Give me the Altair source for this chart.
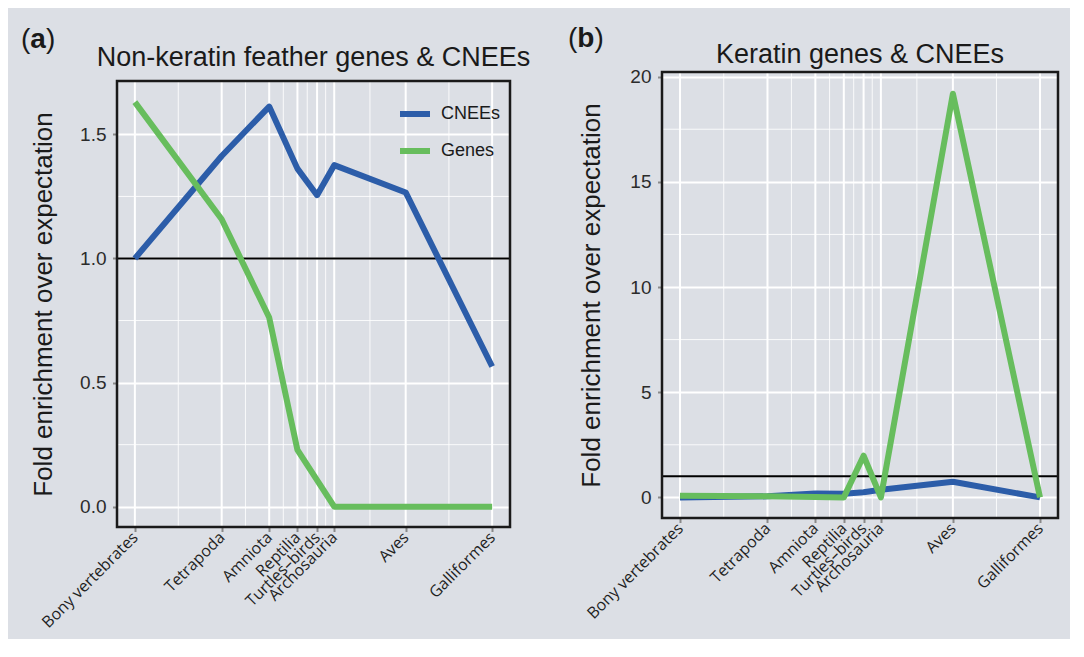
import json
import altair as alt
import pandas as pd

# ---------------- data ----------------
clades = ["Bony vertebrates", "Tetrapoda", "Amniota", "Reptilia",
          "Turtles–birds", "Archosauria", "Aves", "Galliformes"]
clade_pos = [0.0, 24.3, 37.6, 45.5, 51.0, 55.8, 75.8, 100.0]

feather_cnees = [1.0, 1.413, 1.612, 1.362, 1.255, 1.376, 1.266, 0.565]
feather_genes = [1.630, 1.158, 0.762, 0.229, None, 0.0, 0.0, 0.0]

keratin_cnees = [0.0, 0.05, 0.19, 0.17, 0.24, 0.36, 0.74, 0.0]
keratin_genes = [0.08, 0.05, 0.02, 0.0, 1.98, 0.0, 19.19, 0.0]

series_names = ["CNEEs", "Genes"]
series_colors = ["#2c5da9", "#67bd5d"]

a_y_ticks = [0.0, 0.5, 1.0, 1.5]
a_y_minor = [0.25, 0.75, 1.25]
b_y_ticks = [0, 5, 10, 15, 20]
b_y_minor = [2.5, 7.5, 12.5, 17.5]
expected_level = [1.0]

panel_letters = ["a", "b"]
panel_titles = ["Non-keratin feather genes & CNEEs", "Keratin genes & CNEEs"]
y_title = "Fold enrichment over expectation"

# ---------------- style ----------------
BG = "#dcdfe5"
SANS = "Liberation Sans"
TXT = "#1a1a1a"
x_minor = [(clade_pos[i] + clade_pos[i + 1]) / 2 for i in range(len(clade_pos) - 1)]
label_expr = (json.dumps(clades, ensure_ascii=False)
              + "[indexof(" + json.dumps(clade_pos) + ", datum.value)]")


def panel(letter, title, cnees, genes, ydom, yticks, yminor, yfmt, width, height, shift,
          title_y, letter_x, letter_y, show_legend, ytitle_pad):
    """shift: how many pixels the plotting frame is raised inside its view."""
    rows = []
    for name, vals in zip(series_names, [cnees, genes]):
        for c, p, v in zip(clades, clade_pos, vals):
            if v is not None:
                rows.append({"clade": c, "x": p, "value": v, "series": name})
    df = pd.DataFrame(rows)

    top, bottom = -shift, height - shift
    xscale = alt.Scale(domain=[-5, 105], nice=False, zero=False)
    yscale = alt.Scale(domain=ydom, nice=False, zero=False, range=[bottom, top])

    xaxis = alt.Axis(values=clade_pos, labelExpr=label_expr, labelAngle=-45,
                     labelAlign="right", labelBaseline="middle",
                     labelFont="Open Sans", labelFontSize=16, labelColor="#1f1f1f",
                     labelPadding=3, labelOverlap=False, labelFlush=False,
                     labelBound=False, offset=-shift,
                     tickColor="#8a8a8a", tickWidth=2, tickSize=4.5,
                     domain=False, grid=False)
    yaxis = alt.Axis(values=yticks, format=yfmt, labelFont=SANS, labelFontSize=19,
                     labelColor="#2b2b2b", labelPadding=6.5,
                     tickColor="#8a8a8a", tickWidth=2, tickSize=4.5,
                     domain=False, grid=True, gridColor="white", gridWidth=2,
                     titleFont=SANS, titleFontSize=26, titleFontWeight="normal",
                     titleColor=TXT, titlePadding=ytitle_pad, titleY=height / 2 - shift)

    def X(field="x"):
        return alt.X(field + ":Q", scale=xscale, title=None, axis=xaxis)

    def Y(field="value"):
        return alt.Y(field + ":Q", scale=yscale, title=y_title, axis=yaxis)

    xmajor = alt.Chart(pd.DataFrame({"x": clade_pos})).mark_rule(
        color="white", strokeWidth=2
    ).encode(x=X(), y=alt.value(top), y2=alt.value(bottom))
    xminor = alt.Chart(pd.DataFrame({"x": x_minor})).mark_rule(
        color="white", strokeWidth=1, opacity=0.85
    ).encode(x=X(), y=alt.value(top), y2=alt.value(bottom))
    yminor_l = alt.Chart(pd.DataFrame({"value": yminor})).mark_rule(
        color="white", strokeWidth=1, opacity=0.85
    ).encode(y=Y())
    ref = alt.Chart(pd.DataFrame({"value": expected_level})).mark_rule(
        color="black", strokeWidth=2
    ).encode(y=Y())

    if show_legend:
        legend = alt.Legend(title=None, orient="none", legendX=280, legendY=15 - shift,
                            labelFont=SANS, labelFontSize=18, labelColor=TXT,
                            symbolType="stroke", symbolSize=900, symbolStrokeWidth=6,
                            rowPadding=7, labelOffset=8, padding=0)
    else:
        legend = None

    lines = alt.Chart(df).mark_line(
        strokeWidth=6, strokeJoin="round", strokeCap="butt"
    ).encode(
        x=X(),
        y=Y(),
        color=alt.Color("series:N", scale=alt.Scale(domain=series_names, range=series_colors),
                        legend=legend),
        detail="series:N",
    )

    frame = alt.Chart(pd.DataFrame({"t": [0]})).mark_rect(
        fillOpacity=0, stroke="#1a1a1a", strokeWidth=2.5
    ).encode(x=alt.value(0), x2=alt.value(width), y=alt.value(top), y2=alt.value(bottom))

    title_mark = alt.Chart(pd.DataFrame({"t": [title]})).mark_text(
        align="center", baseline="alphabetic", font=SANS, fontSize=27, color=TXT
    ).encode(text="t:N", x=alt.value(width / 2), y=alt.value(title_y))

    parts = [("(", "normal", 0.0), (letter, "bold", 9.3),
             (")", "normal", 9.3 + (15.6 if letter == "a" else 17.1))]
    letter_marks = []
    for txt, wt, dx in parts:
        letter_marks.append(
            alt.Chart(pd.DataFrame({"t": [txt]})).mark_text(
                align="left", baseline="alphabetic", font=SANS, fontSize=28,
                fontWeight=wt, color=TXT
            ).encode(text="t:N", x=alt.value(letter_x + dx), y=alt.value(letter_y))
        )

    return alt.layer(xmajor, xminor, yminor_l, ref, lines, frame, title_mark,
                     *letter_marks).properties(width=width, height=height)


pa = panel(panel_letters[0], panel_titles[0], feather_cnees, feather_genes,
           [-0.0817, 1.715], a_y_ticks, a_y_minor, ".1f", 393, 446, 0,
           title_y=-15, letter_x=-96, letter_y=-33.2, show_legend=True, ytitle_pad=23)
pb = panel(panel_letters[1], panel_titles[1], keratin_cnees, keratin_genes,
           [-0.98, 20.22], b_y_ticks, b_y_minor, "d", 396, 446, 9,
           title_y=-18.4, letter_x=-94, letter_y=-34.2, show_legend=False, ytitle_pad=25)

chart = alt.hconcat(pa, pb, spacing=36).resolve_scale(
    color="independent"
).resolve_legend(color="independent").properties(
    padding={"left": 12, "top": 16, "right": 10, "bottom": 8}
).configure(background=BG).configure_view(stroke="transparent")

chart.save("out.html", embed_options={"renderer": "svg", "actions": False})
